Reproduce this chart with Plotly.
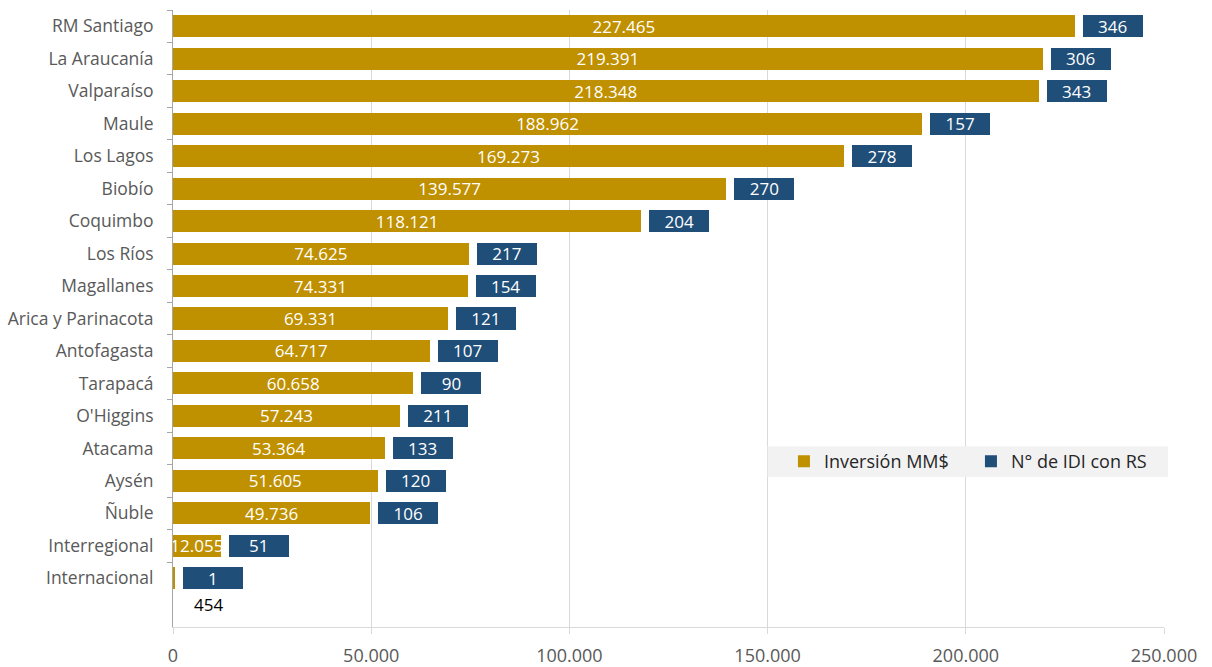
import plotly.graph_objects as go

regions = ["RM Santiago", "La Araucanía", "Valparaíso", "Maule", "Los Lagos", "Biobío",
           "Coquimbo", "Los Ríos", "Magallanes", "Arica y Parinacota", "Antofagasta",
           "Tarapacá", "O'Higgins", "Atacama", "Aysén", "Ñuble", "Interregional", "Internacional"]
inversion = [227465, 219391, 218348, 188962, 169273, 139577, 118121, 74625, 74331, 69331,
             64717, 60658, 57243, 53364, 51605, 49736, 12055, 454]
n_idi = [346, 306, 343, 157, 278, 270, 204, 217, 154, 121, 107, 90, 211, 133, 120, 106, 51, 1]

GOLD = "#BF9000"
BLUE = "#1F4E79"
GAP = 2020        # spacer between the two boxes (axis units)
BOX = 15130       # fixed length of the count box (axis units)
FONT = "Open Sans"

gold_text = [f"{v:,}".replace(",", ".") for v in inversion]
gold_text[-1] = ""  # shown below the bar instead

fig = go.Figure()
fig.add_trace(go.Bar(
    y=regions, x=inversion, orientation="h", name="Inversión MM$",
    marker=dict(color=GOLD, line=dict(width=0)),
    text=gold_text, textposition="inside", insidetextanchor="middle", textangle=0,
    textfont=dict(family=FONT, size=17, color="white"),
    hoverinfo="skip",
))
fig.add_trace(go.Bar(
    y=regions, x=[GAP] * len(regions), orientation="h", showlegend=False,
    marker=dict(color="rgba(0,0,0,0)", line=dict(width=0)), hoverinfo="skip",
))
fig.add_trace(go.Bar(
    y=regions, x=[BOX] * len(regions), orientation="h", name="N° de IDI con RS",
    marker=dict(color=BLUE, line=dict(width=0)),
    text=[str(v) for v in n_idi], texttemplate="%{text}",
    textposition="inside", insidetextanchor="middle", textangle=0,
    textfont=dict(family=FONT, size=17, color="white"),
    hoverinfo="skip",
))

fig.add_annotation(
    x=inversion[-1], y=len(regions) - 1 + 0.8, xref="x", yref="y",
    text=f"{inversion[-1]}", showarrow=False, xanchor="left", xshift=17,
    font=dict(family=FONT, size=17, color="#000000"),
)

fig.add_shape(type="rect", xref="paper", yref="paper", x0=0.600, x1=1.004,
              y0=0.243, y1=0.293, fillcolor="#F2F2F2", line=dict(width=0), layer="above")

fig.update_layout(
    width=1212, height=667,
    margin=dict(l=173, r=48, t=10, b=40, autoexpand=False),
    barmode="stack", bargap=0.32,
    separators=",.",
    plot_bgcolor="white", paper_bgcolor="white",
    font=dict(family=FONT, size=17, color="#595959"),
    uniformtext=dict(minsize=17, mode="show"),
    legend=dict(orientation="h", x=0.6165, y=0.268, xanchor="left", yanchor="middle",
                bgcolor="rgba(0,0,0,0)", font=dict(family=FONT, size=18, color="#262626"),
                itemwidth=30, entrywidth=142, traceorder="normal"),
    xaxis=dict(range=[0, 250000], dtick=50000, tickformat=",d", automargin=False,
               showgrid=True, gridcolor="#D9D9D9", gridwidth=1,
               showline=True, linecolor="#D9D9D9", linewidth=1,
               ticks="outside", ticklen=6, tickcolor="#D9D9D9",
               zeroline=False, ticklabelstandoff=6,
               tickfont=dict(family=FONT, size=18, color="#595959")),
    yaxis=dict(type="category", categoryorder="array", categoryarray=regions,
               range=[len(regions) + 0.5, -0.5], automargin=False,
               showline=True, linecolor="#A6A6A6", linewidth=1,
               ticks="outside", ticklen=5, tickcolor="#A6A6A6", tickson="boundaries",
               showgrid=False, ticklabelstandoff=15,
               tickfont=dict(family=FONT, size=17.5, color="#595959")),
)

fig.write_html("out.html", config={"displayModeBar": False},
               post_script="document.body.style.margin='0';document.body.style.overflow='hidden';")
